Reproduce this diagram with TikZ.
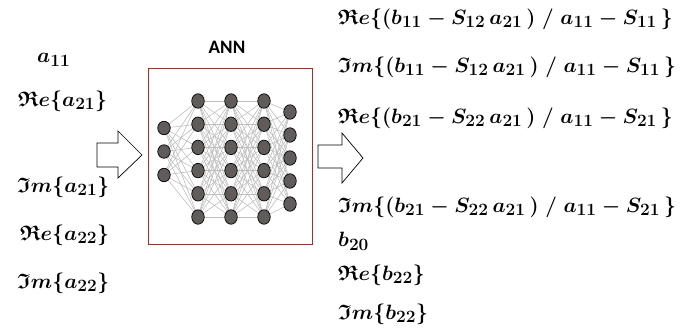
\documentclass[tikz,border=0pt]{standalone}
\usepackage{amsmath,amssymb}
\usepackage{fontspec}
\newfontfamily\labelfont{Carlito}
\usetikzlibrary{shapes.geometric,backgrounds}
\DeclareMathSizes{21}{21}{16}{12}
\definecolor{neurongray}{RGB}{96,92,92}
\definecolor{edgegray}{RGB}{190,190,190}
\definecolor{boxred}{RGB}{200,30,30}
\newcommand\fRe{\mathfrak{R}e}
\newcommand\fIm{\mathfrak{I}m}
\begin{document}
\begin{tikzpicture}[x=1pt,y=-1pt,
  eq/.style={anchor=west,inner sep=0pt,font=\boldmath\fontsize{21}{25}\selectfont},
  neuron/.style={ellipse,draw=black,line width=0.7pt,fill=neurongray,
    minimum width=12.5pt,minimum height=14.5pt,inner sep=0pt},
  edge/.style={draw=edgegray,line width=0.6pt},
  blockarrow/.style={draw=black,line width=0.7pt,fill=white,line join=miter}]
\useasboundingbox (0,0) rectangle (694,335);

% input quantities
\node[eq] (in1) at (37,60)  {$a_{11}$};
\node[eq] (in2) at (18,101) {$\fRe\{a_{21}\}$};
\node[eq] (in3) at (17,187) {$\fIm\{a_{21}\}$};
\node[eq] (in4) at (20,235) {$\fRe\{a_{22}\}$};
\node[eq] (in5) at (17,283) {$\fIm\{a_{22}\}$};

% output quantities
\node[eq] (out1) at (338,19)  {$\fRe\{(b_{11} - S_{12}\,a_{21}\,)\;/\;a_{11} - S_{11}\,\}$};
\node[eq] (out2) at (338,67)  {$\fIm\{(b_{11} - S_{12}\,a_{21}\,)\;/\;a_{11} - S_{11}\,\}$};
\node[eq] (out3) at (338,118) {$\fRe\{(b_{21} - S_{22}\,a_{21}\,)\;/\;a_{11} - S_{21}\,\}$};
\node[eq] (out4) at (338,207) {$\fIm\{(b_{21} - S_{22}\,a_{21}\,)\;/\;a_{11} - S_{21}\,\}$};
\node[eq] (out5) at (338,241) {$b_{20}$};
\node[eq] (out6) at (338,275) {$\fRe\{b_{22}\}$};
\node[eq] (out7) at (338,314) {$\fIm\{b_{22}\}$};

% block arrows
\draw[blockarrow] (97,143) -- (118,143) -- (118,131) -- (142,155) -- (118,178) -- (118,167) -- (97,167) -- cycle;
\draw[blockarrow] (318,145) -- (342,145) -- (342,133) -- (363,158) -- (342,183) -- (342,168) -- (318,168) -- cycle;

% network frame and title
\node[draw=boxred,line width=1pt,minimum width=164pt,minimum height=176pt,inner sep=0pt] (ann) at (230,156) {};
\node[font=\labelfont\bfseries\fontsize{19}{22}\selectfont,inner sep=0pt] (title) at (227,47) {ANN};

% neurons
\foreach \i in {1,2,3}
  \node[neuron,minimum height=13.5pt] (A\i) at (164,{128+23.5*(\i-1)}) {};
\foreach \i in {1,...,6} {
  \node[neuron] (B\i) at (198,{101+23.2*(\i-1)}) {};
  \node[neuron] (C\i) at (231,{101+23.2*(\i-1)}) {};
  \node[neuron] (D\i) at (264,{101+23.2*(\i-1)}) {};
}
\foreach \i in {1,...,5}
  \node[neuron] (E\i) at (290,{112+23*(\i-1)}) {};

% connections between consecutive layers
\begin{pgfonlayer}{background}
\foreach \i in {1,2,3}
  \foreach \j in {1,...,6}
    \draw[edge] (A\i.center) -- (B\j.center);
\foreach \i in {1,...,6}
  \foreach \j in {1,...,6} {
    \draw[edge] (B\i.center) -- (C\j.center);
    \draw[edge] (C\i.center) -- (D\j.center);
  }
\foreach \i in {1,...,6}
  \foreach \j in {1,...,5}
    \draw[edge] (D\i.center) -- (E\j.center);
\end{pgfonlayer}
\end{tikzpicture}
\end{document}
